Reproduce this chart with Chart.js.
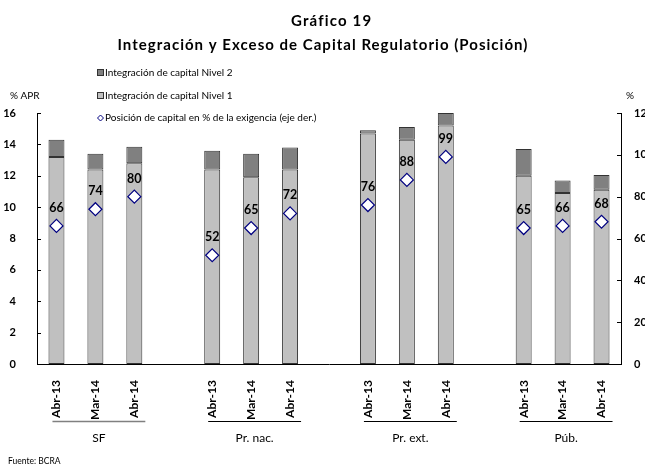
<!DOCTYPE html>
<html>
<head>
<meta charset="utf-8">
<script src="https://cdn.jsdelivr.net/npm/chart.js@4"></script>
<style>
  html, body { margin: 0; padding: 0; background: #fff; }
  canvas { display: block; }
</style>
</head>
<body>
<canvas id="chart" width="645" height="468"></canvas>
<script>
// Gráfico 19 - Integración y Exceso de Capital Regulatorio (Posición)

// Data
const periods = ['Abr-13', 'Mar-14', 'Abr-14'];
const groups = ['SF', 'Pr. nac.', 'Pr. ext.', 'Púb.'];
const nivel1 = [13.2, 12.4, 12.8, 12.4, 11.9, 12.4, 14.7, 14.3, 15.2, 12.0, 10.9, 11.1];
const nivel2 = [1.1, 1.0, 1.05, 1.2, 1.5, 1.4, 0.2, 0.8, 0.8, 1.7, 0.8, 0.95];
const posicion = [66, 74, 80, 52, 65, 72, 76, 88, 99, 65, 66, 68];
const leftAxis = { min: 0, max: 16, step: 2 };
const rightAxis = { min: 0, max: 120, step: 20 };

const FONT = 'Lato, "Open Sans", sans-serif';

// Insert an empty category between groups
function withGaps(values, blank) {
  const out = [];
  groups.forEach((g, gi) => {
    if (gi > 0) out.push(blank);
    periods.forEach((p, pi) => out.push(values[gi * periods.length + pi]));
  });
  return out;
}

const labels = withGaps(groups.flatMap(() => periods), '');

// draw text stretched (via letter spacing) to a given width, centered
function spacedText(ctx, text, cx, cy, width) {
  ctx.letterSpacing = '0px';
  const w = ctx.measureText(text).width;
  const ls = Math.max(0, (width - w) / (text.length - 1));
  ctx.letterSpacing = ls.toFixed(2) + 'px';
  ctx.textAlign = 'left';
  ctx.fillText(text, cx - width / 2, cy);
  ctx.letterSpacing = '0px';
}

// Titles, legend, inner ticks, value labels and group captions
const overlay = {
  id: 'overlay',
  afterDraw(chart) {
    const ctx = chart.ctx;
    const { x, y, y1 } = chart.scales;
    const area = chart.chartArea;
    ctx.save();

    // titles
    ctx.fillStyle = '#000';
    ctx.textBaseline = 'middle';
    ctx.font = 'bold 15px ' + FONT;
    spacedText(ctx, 'Gráfico 19', 331, 21, 80);
    spacedText(ctx, 'Integración y Exceso de Capital Regulatorio (Posición)', 322.5, 45, 410);

    // axis units
    ctx.font = '10px ' + FONT;
    ctx.textAlign = 'left';
    ctx.fillText('% APR', 10, 96);
    ctx.fillText('%', 626, 96);

    // inner tick marks
    ctx.strokeStyle = '#000';
    ctx.lineWidth = 1;
    y.ticks.forEach(t => {
      const py = Math.round(y.getPixelForValue(t.value)) + 0.5;
      ctx.beginPath(); ctx.moveTo(area.left, py); ctx.lineTo(area.left + 4, py); ctx.stroke();
    });
    y1.ticks.forEach(t => {
      const py = Math.round(y1.getPixelForValue(t.value)) + 0.5;
      ctx.beginPath(); ctx.moveTo(area.right, py); ctx.lineTo(area.right - 4, py); ctx.stroke();
    });

    // legend
    ctx.font = '10px ' + FONT;
    ctx.textBaseline = 'middle';
    const legend = [
      { text: 'Integración de capital Nivel 2', y: 73, kind: 'box', fill: '#808080' },
      { text: 'Integración de capital Nivel 1', y: 96, kind: 'box', fill: '#c0c0c0' },
      { text: 'Posición de capital en % de la exigencia (eje der.)', y: 118, kind: 'diamond' }
    ];
    legend.forEach(item => {
      if (item.kind === 'box') {
        ctx.fillStyle = item.fill;
        ctx.fillRect(97.5, item.y - 3.5, 6, 6);
        ctx.strokeStyle = '#333';
        ctx.strokeRect(97.5, item.y - 3.5, 6, 6);
      } else {
        ctx.strokeStyle = '#000080';
        ctx.fillStyle = '#fff';
        ctx.beginPath();
        ctx.moveTo(100.5, item.y - 3); ctx.lineTo(103.5, item.y);
        ctx.lineTo(100.5, item.y + 3); ctx.lineTo(97.5, item.y);
        ctx.closePath(); ctx.fill(); ctx.stroke();
      }
      ctx.fillStyle = '#000';
      ctx.textAlign = 'left';
      ctx.fillText(item.text, 105, item.y);
    });

    // value labels above the diamonds
    ctx.font = 'bold 12.5px ' + FONT;
    ctx.textAlign = 'center';
    chart.getDatasetMeta(2).data.forEach((pt, i) => {
      const v = chart.data.datasets[2].data[i];
      if (v == null) return;
      ctx.fillText(String(v), pt.x, pt.y - 18);
    });

    // group captions under the period labels
    ctx.font = '12px ' + FONT;
    groups.forEach((g, gi) => {
      const first = gi * (periods.length + 1);
      const last = first + periods.length - 1;
      const x0 = x.getPixelForTick(first) - 4;
      const x1 = x.getPixelForTick(last) + 11;
      ctx.strokeStyle = gi === 0 ? '#808080' : '#000';
      ctx.lineWidth = gi === 0 ? 1.5 : 1;
      ctx.beginPath(); ctx.moveTo(x0, 421.5); ctx.lineTo(x1, 421.5); ctx.stroke();
      ctx.fillStyle = '#000';
      ctx.fillText(g, (x0 + x1) / 2, 438);
    });

    // source
    ctx.font = '8.5px ' + FONT;
    ctx.textAlign = 'left';
    ctx.fillText('Fuente: BCRA', 8, 461);

    ctx.restore();
  }
};

const chart = new Chart(document.getElementById('chart'), {
  type: 'bar',
  data: {
    labels,
    datasets: [
      {
        label: 'Integración de capital Nivel 1',
        data: withGaps(nivel1, null),
        backgroundColor: '#c0c0c0',
        borderColor: '#333',
        borderWidth: 1,
        borderSkipped: false,
        barPercentage: 0.41,
        categoryPercentage: 1,
        yAxisID: 'y',
        order: 2
      },
      {
        label: 'Integración de capital Nivel 2',
        data: withGaps(nivel2, null),
        backgroundColor: '#808080',
        borderColor: '#333',
        borderWidth: 1,
        borderSkipped: false,
        barPercentage: 0.41,
        categoryPercentage: 1,
        yAxisID: 'y',
        order: 2
      },
      {
        type: 'line',
        label: 'Posición de capital en % de la exigencia (eje der.)',
        data: withGaps(posicion, null),
        showLine: false,
        pointStyle: 'rectRot',
        pointRadius: 6.5,
        pointBackgroundColor: '#fff',
        pointBorderColor: '#000080',
        pointBorderWidth: 1.2,
        yAxisID: 'y1',
        order: 1
      }
    ]
  },
  options: {
    responsive: false,
    animation: false,
    devicePixelRatio: 1,
    layout: { padding: { top: 113, left: 0, right: 0, bottom: 0 } },
    plugins: {
      legend: { display: false },
      tooltip: { enabled: false }
    },
    scales: {
      x: {
        stacked: true,
        grid: { display: false },
        border: { display: true, color: '#000', width: 1 },
        ticks: {
          autoSkip: false,
          maxRotation: 90,
          minRotation: 90,
          padding: 8,
          color: '#000',
          font: { family: FONT, size: 12, weight: 'bold' }
        },
        afterFit: s => { s.height = 104; }
      },
      y: {
        stacked: true,
        position: 'left',
        min: leftAxis.min,
        max: leftAxis.max,
        grid: { display: false },
        border: { display: true, color: '#000', width: 1 },
        ticks: {
          stepSize: leftAxis.step,
          padding: 13,
          color: '#000',
          font: { family: FONT, size: 11, weight: 'bold' }
        },
        afterFit: s => { s.width = 37; }
      },
      y1: {
        position: 'right',
        min: rightAxis.min,
        max: rightAxis.max,
        grid: { display: false },
        border: { display: true, color: '#000', width: 1 },
        ticks: {
          stepSize: rightAxis.step,
          padding: 5,
          color: '#000',
          font: { family: FONT, size: 11, weight: 'bold' }
        },
        afterFit: s => { s.width = 24; }
      }
    }
  },
  plugins: [overlay]
});
</script>
</body>
</html>
